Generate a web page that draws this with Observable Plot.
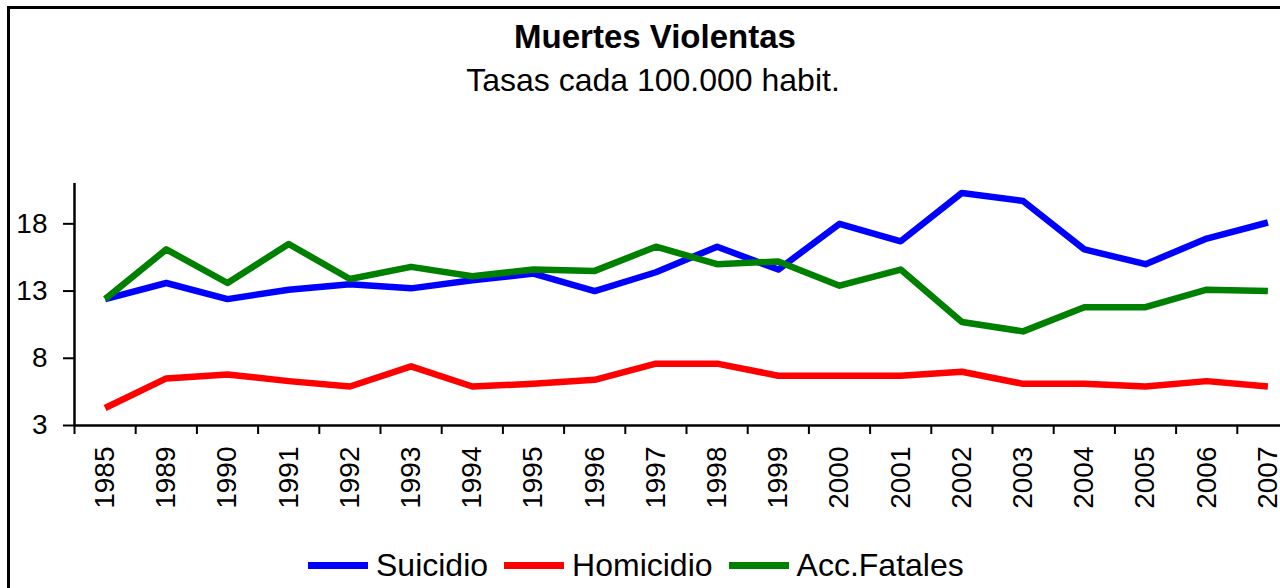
<!DOCTYPE html>
<html>
<head>
<meta charset="utf-8">
<script src="https://cdn.jsdelivr.net/npm/d3@7"></script>
<script src="https://cdn.jsdelivr.net/npm/@observablehq/plot@0.6"></script>
<style>
  html, body { margin: 0; padding: 0; background: #fff; overflow: hidden; }
  #wrap { position: relative; width: 1280px; height: 588px; font-family: "Liberation Sans", Arial, sans-serif; color: #000; }
  #frame { position: absolute; left: 7px; top: 6px; width: 1400px; height: 700px; border: 3px solid #000; box-sizing: border-box; pointer-events: none; }
  #titles { position: absolute; left: 0; top: 0; width: 1280px; height: 100px; }
  #t1 { position: absolute; left: 0; width: 1310px; top: 17px; text-align: center; font-weight: bold; font-size: 33px; line-height: 40px; }
  #t2 { position: absolute; left: 0; width: 1306px; top: 60px; text-align: center; font-size: 32px; line-height: 40px; }
  #chart { position: absolute; left: 0; top: 100px; }
  #legend { position: absolute; left: 308px; top: 545px; height: 40px; display: flex; align-items: center; font-size: 32px; white-space: nowrap; }
  .item { display: flex; align-items: center; margin-right: 16px; }
  .sw { width: 60px; height: 7px; margin-right: 8px; }
</style>
</head>
<body>
<div id="wrap">
  <div id="titles">
    <div id="t1">Muertes Violentas</div>
    <div id="t2">Tasas cada 100.000 habit.</div>
  </div>
  <div id="chart"></div>
  <div id="legend"></div>
  <div id="frame"></div>
</div>
<script>
const years = ["1985","1989","1990","1991","1992","1993","1994","1995","1996","1997","1998","1999","2000","2001","2002","2003","2004","2005","2006","2007"];
const suicidio = [12.4, 13.6, 12.4, 13.1, 13.5, 13.2, 13.8, 14.3, 13.0, 14.4, 16.3, 14.6, 18.0, 16.7, 20.3, 19.7, 16.1, 15.0, 16.9, 18.1];
const homicidio = [4.3, 6.5, 6.8, 6.3, 5.9, 7.4, 5.9, 6.1, 6.4, 7.6, 7.6, 6.7, 6.7, 6.7, 7.0, 6.1, 6.1, 5.9, 6.3, 5.9];
const accFatales = [12.4, 16.1, 13.6, 16.5, 13.9, 14.8, 14.1, 14.6, 14.5, 16.3, 15.0, 15.2, 13.4, 14.6, 10.7, 10.0, 11.8, 11.8, 13.1, 13.0];
const seriesNames = ["Suicidio", "Homicidio", "Acc.Fatales"];
const seriesColors = ["#0000ff", "#ff0000", "#008000"];
const yTicks = [3, 8, 13, 18];

const seriesValues = [suicidio, homicidio, accFatales];
const rows = [];
seriesNames.forEach((name, s) => {
  years.forEach((yr, i) => rows.push({series: name, idx: i + 0.5, year: yr, value: seriesValues[s][i]}));
});

const font = "Liberation Sans, Arial, sans-serif";
const chart = Plot.plot({
  width: 1280,
  height: 440,
  marginTop: 83,
  marginBottom: 115,
  marginLeft: 74,
  marginRight: 0,
  style: {fontFamily: font, fontSize: "28px", color: "#000", background: "transparent"},
  x: {type: "linear", domain: [0, years.length], range: [74, 1298]},
  y: {domain: [3, 21]},
  color: {domain: seriesNames, range: seriesColors},
  marks: [
    Plot.axisY({ticks: yTicks, tickSize: 11, tickPadding: 16, fontSize: 28, strokeWidth: 2, label: null}),
    Plot.axisX({ticks: d3.range(0, years.length + 1), tickSize: 9, strokeWidth: 2, tickFormat: () => "", label: null}),
    Plot.axisX({ticks: years.map((_, i) => i + 0.5), tickSize: 0, tickPadding: 21, tickRotate: -90,
      tickFormat: v => years[Math.floor(v)], fontSize: 28, label: null}),
    Plot.ruleX([0], {y1: 3, y2: 21, strokeWidth: 2.5}),
    Plot.ruleY([3], {strokeWidth: 2.5}),
    Plot.line(rows, {x: "idx", y: "value", z: "series", stroke: "series", strokeWidth: 6.5, strokeLinejoin: "round", strokeLinecap: "butt"})
  ]
});
document.getElementById("chart").appendChild(chart);

const legend = document.getElementById("legend");
seriesNames.forEach((name, i) => {
  const it = document.createElement("div");
  it.className = "item";
  const sw = document.createElement("div");
  sw.className = "sw";
  sw.style.background = seriesColors[i];
  const tx = document.createElement("span");
  tx.textContent = name;
  it.appendChild(sw); it.appendChild(tx);
  legend.appendChild(it);
});
</script>
</body>
</html>
